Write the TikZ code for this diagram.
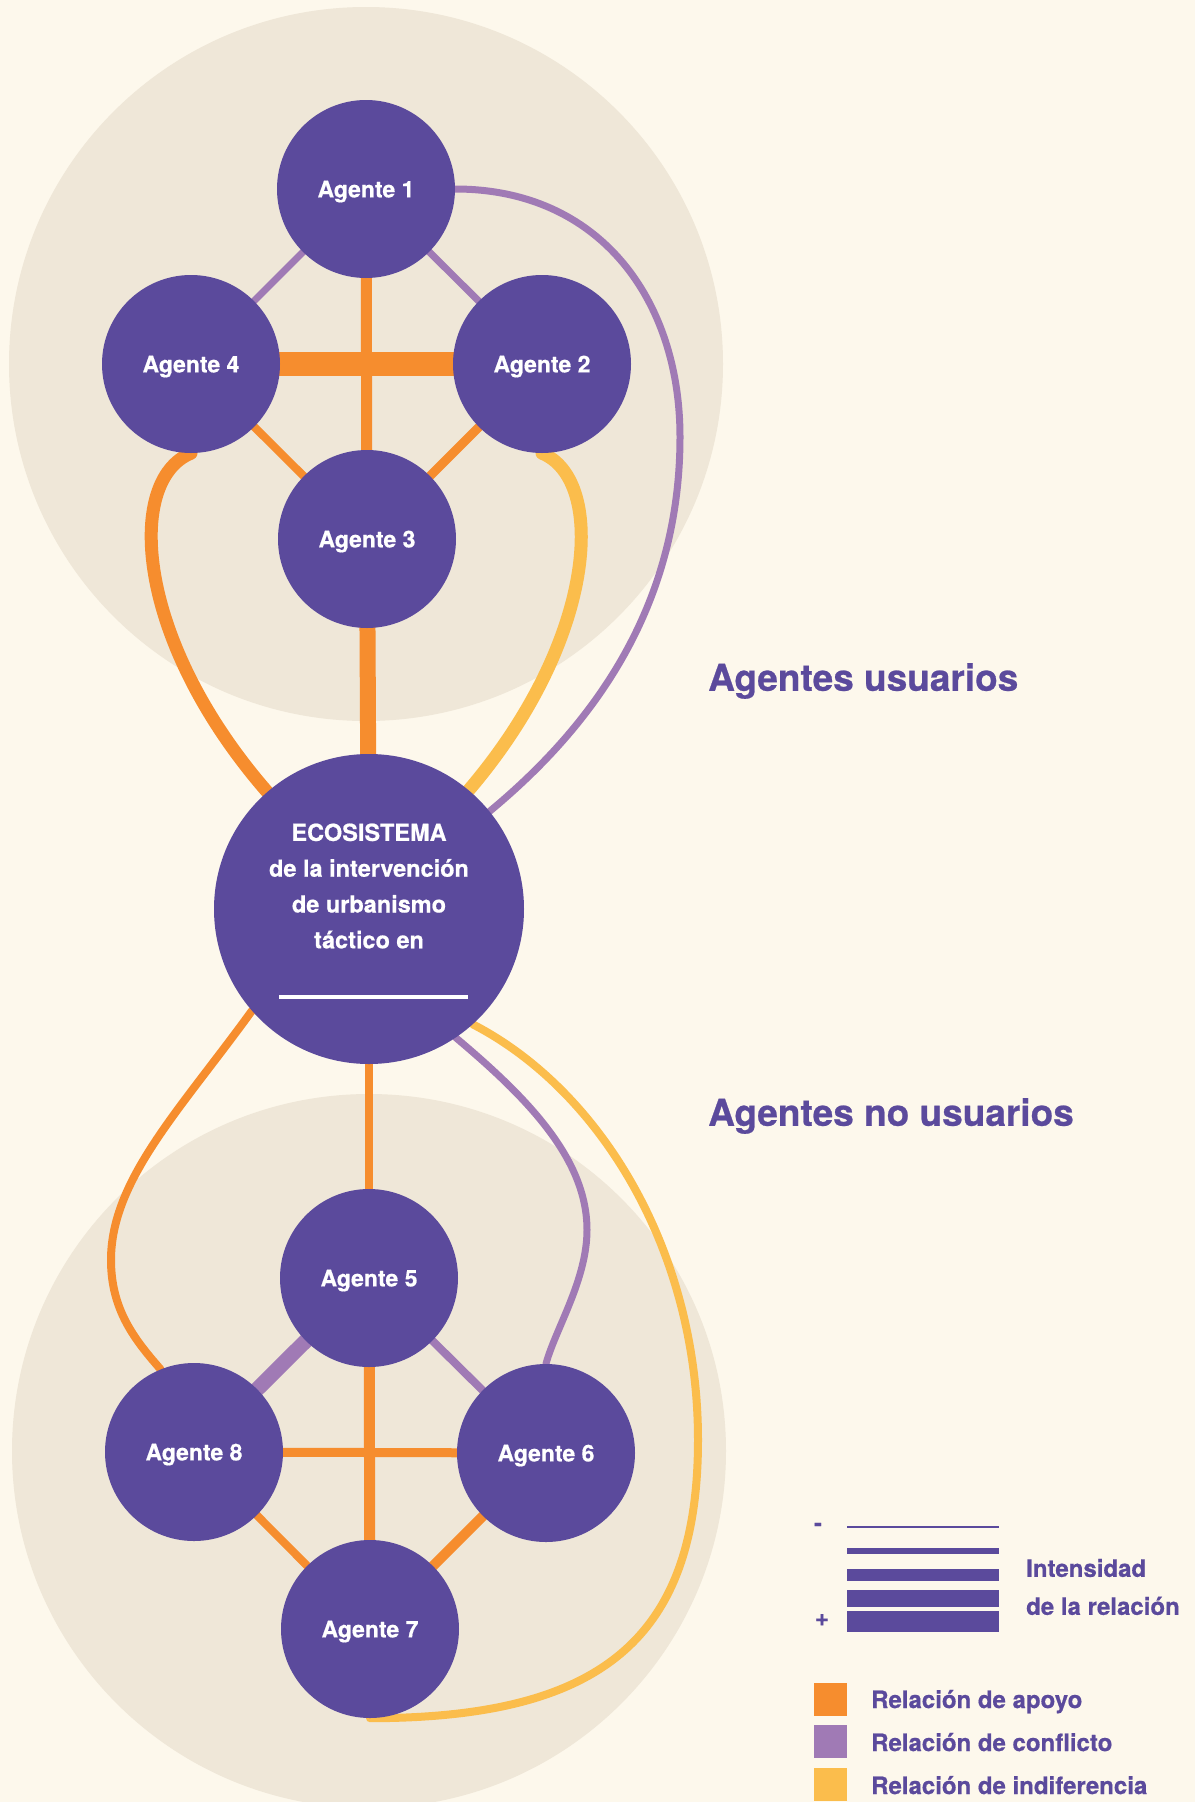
\documentclass[tikz,border=0pt]{standalone}
\usepackage{fontspec}
\setmainfont{TeX Gyre Heros}[BoldFeatures={FakeBold=0.6}]
\usepackage{xcolor}
\usetikzlibrary{backgrounds}

\definecolor{crema}{HTML}{FDF8EC}
\definecolor{beige}{HTML}{EFE7D8}
\definecolor{morado}{HTML}{5B4A9C}
\definecolor{naranja}{HTML}{F68D2E}
\definecolor{lila}{HTML}{A07AB5}
\definecolor{amarillo}{HTML}{FBBD4C}

\tikzset{
	agente/.style={circle, fill=morado, minimum size=178pt, inner sep=0pt, text depth=0pt, text=white, font=\bfseries\fontsize{23}{27}\selectfont},
	apoyo/.style={naranja, line width=#1pt},
	conflicto/.style={lila, line width=#1pt},
	indiferencia/.style={amarillo, line width=#1pt},
	titulo/.style={anchor=west, inner sep=0pt, text depth=0pt, text=morado, font=\bfseries\fontsize{37}{44}\selectfont},
	leyenda/.style={anchor=west, inner sep=0pt, text=morado, font=\bfseries\fontsize{24}{38}\selectfont},
}

\begin{document}
\begin{tikzpicture}[x=1pt, y=-1pt]
			\useasboundingbox (0,0) rectangle (1195,1802);
			% Agentes usuarios
			\node[agente] (a1) at (366,189) {Agente 1};
			\node[agente] (a2) at (542,364) {Agente 2};
			\node[agente] (a3) at (367,539) {Agente 3};
			\node[agente] (a4) at (191,364) {Agente 4};
			% Ecosistema
			\node[circle, fill=morado, minimum size=310pt, inner sep=0pt] (eco) at (369,909) {};
			\node[text=white, align=center, font=\bfseries\fontsize{23.5}{35.8}\selectfont] (ecotexto) at (369,886) {ECOSISTEMA\\de la intervención\\de urbanismo\\táctico en};
			\draw[white, line width=3.5pt] (279,997) -- (468,997);
			% Agentes no usuarios
			\node[agente] (a5) at (369,1278) {Agente 5};
			\node[agente] (a6) at (546,1453) {Agente 6};
			\node[agente] (a7) at (370,1629) {Agente 7};
			\node[agente] (a8) at (194,1452) {Agente 8};
			
			\begin{scope}[on background layer]
				\fill[crema] (0,0) rectangle (1195,1802);
				\fill[beige] (366,364) circle (357);
				\fill[beige] (369,1451) circle (357);
				% Relaciones arriba
				\draw[conflicto=7] (a1.center) -- (a4.center);
				\draw[conflicto=7] (a1.center) -- (a2.center);
				\draw[apoyo=11] (a1.center) -- (a3.center);
				\draw[apoyo=24] (a4.center) -- (a2.center);
				\draw[apoyo=8] (a4.center) -- (a3.center);
				\draw[apoyo=9] (a2.center) -- (a3.center);
				\draw[apoyo=16] (a3.center) -- (eco.center);
				\draw[apoyo=13, line cap=round] (a4.south) .. controls (125,480) and (135,640) .. (eco.131);
				\draw[indiferencia=13, line cap=round] (a2.south) .. controls (607,480) and (597,640) .. (eco.50);
				\draw[conflicto=7, line cap=round] (a1.east) .. controls (600,189) and (680,300) .. (680,437) .. controls (680,600) and (600,720) .. (eco.39);
				% Relaciones abajo
				\draw[apoyo=8] (eco.center) -- (a5.center);
				\draw[conflicto=15] (a5.center) -- (a8.center);
				\draw[conflicto=8] (a5.center) -- (a6.center);
				\draw[apoyo=11] (a5.center) -- (a7.center);
				\draw[apoyo=9] (a8.center) -- (a6.center);
				\draw[apoyo=8] (a8.center) -- (a7.center);
				\draw[apoyo=10] (a6.center) -- (a7.center);
				\draw[apoyo=8, line cap=round] (eco.221) .. controls (180,1110) and (111,1180) .. (111,1260) .. controls (111,1310) and (135,1340) .. (a8.112);
				\draw[conflicto=7, line cap=round] (eco.-56) .. controls (530,1100) and (587,1160) .. (587,1230) .. controls (587,1280) and (555,1330) .. (a6.north);
				\draw[indiferencia=8, line cap=round] (eco.-48) .. controls (600,1090) and (698,1250) .. (698,1440) .. controls (698,1640) and (600,1718) .. (a7.south);
			\end{scope}
			
			% Títulos
			\node[titulo] (usuarios) at (708,677) {Agentes usuarios};
			\node[titulo] (nousuarios) at (708,1112) {Agentes no usuarios};
			
			% Leyenda
			\node[leyenda, anchor=center] (menos) at (818,1527) {-};
			\node[leyenda, anchor=center] (mas) at (822,1620) {+};
			\foreach \yy/\ww in {1527/2, 1551/6, 1575/12, 1598.5/17, 1621.5/21}
			\draw[morado, line width=\ww pt] (847,\yy) -- (999,\yy);
			\node[leyenda, align=left] (intensidad) at (1026,1587) {Intensidad\\de la relación};
			\fill[naranja] (814,1683) rectangle (847,1716);
			\fill[lila] (814,1725) rectangle (847,1758);
			\fill[amarillo] (814,1768) rectangle (847,1801);
			\node[leyenda, text depth=0pt] (apoyoL) at (871,1699) {Relación de apoyo};
			\node[leyenda, text depth=0pt] (conflictoL) at (871,1742) {Relación de conflicto};
			\node[leyenda, text depth=0pt] (indiferenciaL) at (871,1785) {Relación de indiferencia};
		\end{tikzpicture}
\end{document}
